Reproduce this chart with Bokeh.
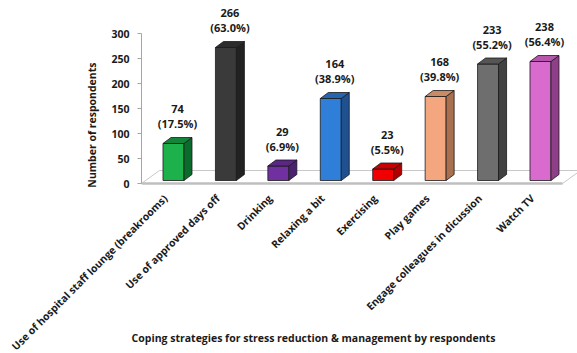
import math
from bokeh.plotting import figure
from bokeh.layouts import row
from bokeh.models import Range1d, LinearAxis, FixedTicker, ColumnDataSource, Title
from bokeh.core.properties import value
from bokeh.embed import file_html
from bokeh.resources import INLINE

categories = ["Use of hospital staff lounge (breakrooms)", "Use of approved days off",
              "Drinking", "Relaxing a bit", "Exercising", "Play games",
              "Engage colleagues in dicussion", "Watch TV"]
counts = [74, 266, 29, 164, 23, 168, 233, 238]
percents = ["17.5%", "63.0%", "6.9%", "38.9%", "5.5%", "39.8%", "55.2%", "56.4%"]
y_ticks = [0, 50, 100, 150, 200, 250, 300]
y_title = "Number of respondents"
x_title = "Coping strategies for stress reduction & management by respondents"
front_colors = ["#1db14b", "#3a3a3a", "#7030a0", "#2f7fd8", "#f00000", "#f4a77f", "#6e6e6e", "#d96bcf"]
side_colors = ["#0b6b2c", "#222222", "#4a2270", "#1f5090", "#b00000", "#a8704f", "#414141", "#8f3f88"]
top_colors = ["#12853a", "#2c2c2c", "#5b2686", "#2565ad", "#c80000", "#c98a66", "#555555", "#b555ab"]

FONT = "Open Sans"
TXT = "#1a1a1a"
W, H = 577, 353
LEFT = 141
x0, x1 = -0.11, 8.206
PX = (W - LEFT) / (x1 - x0)   # pixels per category unit
y0, y1 = -340, 366

# main chart
p = figure(width=W, height=H, output_backend="svg", toolbar_location=None,
           x_range=Range1d(x0, x1), y_range=Range1d(y0, y1),
           min_border_left=LEFT, min_border_right=0, min_border_top=0, min_border_bottom=0,
           x_axis_location=None, y_axis_location=None)
p.grid.visible = False
p.outline_line_color = None
p.background_fill_color = "white"

yax = LinearAxis(bounds=(0, 300), ticker=FixedTicker(ticks=y_ticks))
yax.axis_line_color = "#a6a6a6"
yax.major_tick_line_color = "#a6a6a6"
yax.major_tick_out = 4
yax.major_tick_in = 0
yax.minor_tick_line_color = None
yax.major_label_standoff = 8
yax.major_label_text_font = FONT
yax.major_label_text_font_style = "bold"
yax.major_label_text_font_size = "10.5px"
yax.major_label_text_color = TXT
p.add_layout(yax, "left")

p.add_layout(Title(text=y_title, align="right", offset=62, standoff=20, text_font=FONT,
                   text_font_style="bold", text_font_size="10.5px", text_color=TXT), "left")

xs = [i + 0.5 for i in range(len(categories))]

# floor
fdx, fdy = 0.343, 26
fx1 = 7.92
p.patch([x0, fx1, fx1 + fdx, x0 + fdx], [0, 0, fdy, fdy],
        fill_color="white", line_color="#c8c8c8", line_width=1)
p.line([x0, fx1], [0, 0], line_color="#bfbfbf", line_width=2.5)

# bars
base = 6
hw = 0.2
dx, dy = 0.153, 12
tops = [base + v for v in counts]
p.quad(left=[c - hw for c in xs], right=[c + hw for c in xs], bottom=base, top=tops,
       fill_color=front_colors, line_color="#1a1a1a", line_width=0.8)
side_xs = [[c + hw, c + hw + dx, c + hw + dx, c + hw] for c in xs]
side_ys = [[base, base + dy, t + dy, t] for t in tops]
p.patches(side_xs, side_ys, fill_color=side_colors, line_color="#1a1a1a", line_width=0.8)
top_xs = [[c - hw, c + hw, c + hw + dx, c - hw + dx] for c in xs]
top_ys = [[t, t, t + dy, t + dy] for t in tops]
p.patches(top_xs, top_ys, fill_color=top_colors, line_color="#1a1a1a", line_width=0.8)

labels = ["%d\n(%s)" % (v, pc) for v, pc in zip(counts, percents)]
src = ColumnDataSource(dict(x=[c + dx / 2 for c in xs], y=[t + dy + 13 for t in tops], text=labels))
p.text(x="x", y="y", text="text", source=src, text_align="center", text_baseline="bottom",
       text_font=value(FONT), text_font_style="bold", text_font_size="11px",
       text_color=TXT, text_line_height=1.0)

# transparent overlay (same scales, frame over the whole page) for the texts
# that run past the main plot frame
q = figure(width=W, height=H, output_backend="svg", toolbar_location=None,
           x_range=Range1d(x0 - LEFT / PX, x1), y_range=Range1d(y0, y1),
           min_border_left=0, min_border_right=0, min_border_top=0, min_border_bottom=0,
           x_axis_location=None, y_axis_location=None, margin=(0, 0, 0, -W))
q.grid.visible = False
q.outline_line_color = None
q.background_fill_color = None
q.border_fill_color = None

csrc = ColumnDataSource(dict(x=[c - 0.25 for c in xs], y=[-16] * len(xs), text=categories))
q.text(x="x", y="y", text="text", source=csrc, angle=math.pi / 4,
       text_align="right", text_baseline="top",
       text_font=value(FONT), text_font_style="bold", text_font_size="10.4px", text_color=TXT)
q.text(x=[3.17], y=[-308], text=[x_title], text_align="center", text_baseline="middle",
       text_font=value(FONT), text_font_style="bold", text_font_size="10.5px", text_color=TXT)

layout = row(p, q)
open("out.html", "w").write(file_html(layout, INLINE))
